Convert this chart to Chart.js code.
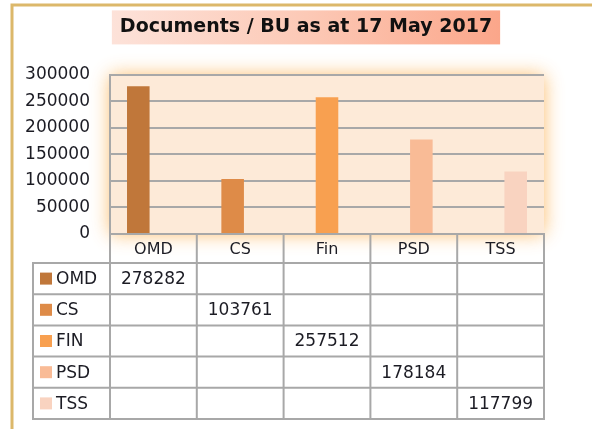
<!DOCTYPE html>
<html>
<head>
<meta charset="utf-8">
<script src="https://cdn.jsdelivr.net/npm/chart.js@4/dist/chart.umd.min.js"></script>
<style>
  html, body { margin: 0; padding: 0; background: #ffffff; }
  #wrap { width: 592px; height: 429px; position: relative; }
</style>
</head>
<body>
<div id="wrap"><canvas id="c" width="592" height="429"></canvas></div>
<script>
// ---- data ----
const chartTitle = 'Documents / BU as at 17 May 2017';
const categories = ['OMD', 'CS', 'Fin', 'PSD', 'TSS'];
const seriesNames = ['OMD', 'CS', 'FIN', 'PSD', 'TSS'];
const documentCounts = [278282, 103761, 257512, 178184, 117799];
const yTickValues = [0, 50000, 100000, 150000, 200000, 250000, 300000];

// ---- styles ----
const seriesColors = ['#c0773a', '#de8b48', '#f8a050', '#f9bb96', '#f9d3c0'];
const FONT = '"DejaVu Sans", Verdana, sans-serif';
const TEXT = '#1c1c24';
const LINE = '#a8a8a8';
const HEADER_H = 29;

const datasets = seriesNames.map((name, i) => ({
  label: name,
  data: categories.map((_, j) => (j === i ? documentCounts[i] : null)),
  backgroundColor: seriesColors[i],
  borderWidth: 0,
  grouped: false,
  barPercentage: 0.26,
  categoryPercentage: 1.0
}));

const framePlugin = {
  id: 'frame',
  afterLayout(chart) {
    // centre the title over the whole framed area
    const tb = chart.titleBlock;
    tb.right = 600;
    tb.width = tb.right - tb.left;
  },
  beforeDraw(chart) {
    const ctx = chart.ctx;
    const a = chart.chartArea;
    ctx.save();
    ctx.fillStyle = '#ffffff';
    ctx.fillRect(0, 0, chart.width, chart.height);
    // gold outer frame (top & left)
    ctx.strokeStyle = '#dcb86a';
    ctx.lineWidth = 3;
    ctx.beginPath();
    ctx.moveTo(12, chart.height);
    ctx.lineTo(12, 5);
    ctx.lineTo(chart.width, 5);
    ctx.stroke();
    // title gradient box
    const tb = chart.titleBlock;
    const topts = chart.options.plugins.title;
    ctx.font = 'bold ' + topts.font.size + 'px ' + FONT;
    const tw = ctx.measureText(chartTitle).width;
    const cx = (tb.left + tb.right) / 2;
    const cy = tb.top + topts.padding.top + topts.font.size * 1.2 / 2;
    const bx = cx - tw / 2 - 8, bw = tw + 16, by = cy - 17, bh = 34;
    const g = ctx.createLinearGradient(bx, 0, bx + bw, 0);
    g.addColorStop(0, '#fde2d9');
    g.addColorStop(0.5, '#fcc9b6');
    g.addColorStop(1, '#fba68a');
    ctx.fillStyle = g;
    ctx.fillRect(bx, by, bw, bh);
    // plot area with glow
    ctx.shadowColor = 'rgba(251,176,80,0.85)';
    ctx.shadowBlur = 18;
    ctx.fillStyle = '#fdead8';
    ctx.fillRect(a.left, a.top, a.right - a.left, a.bottom - a.top);
    ctx.restore();
  }
};

const offsetPlugin = {
  id: 'barOffset',
  afterDatasetsUpdate(chart) {
    const xs = chart.scales.x;
    const cw = xs.width / categories.length;
    const n = chart.data.datasets.length;
    chart.data.datasets.forEach((ds, i) => {
      const meta = chart.getDatasetMeta(i);
      meta.data.forEach(el => { el.x += (i - (n - 1) / 2) * cw * 0.087; });
    });
  }
};

const tablePlugin = {
  id: 'dataTable',
  afterDraw(chart) {
    const ctx = chart.ctx;
    const a = chart.chartArea;
    const xs = chart.scales.x;
    const cw = (a.right - a.left) / categories.length;
    const top = a.bottom;
    const headBottom = top + HEADER_H;
    const bottom = xs.bottom;
    const rowH = (bottom - headBottom) / seriesNames.length;
    const tableLeft = 33;
    ctx.save();
    ctx.strokeStyle = LINE;
    ctx.lineWidth = 2;
    ctx.beginPath();
    for (let i = 0; i <= categories.length; i++) {
      const x = a.left + i * cw;
      ctx.moveTo(x, top); ctx.lineTo(x, bottom);
    }
    ctx.moveTo(tableLeft, headBottom); ctx.lineTo(tableLeft, bottom);
    for (let r = 0; r <= seriesNames.length; r++) {
      const y = headBottom + r * rowH;
      ctx.moveTo(tableLeft - 1, y); ctx.lineTo(a.right + 1, y);
    }
    ctx.stroke();
    // rows
    ctx.font = '17px ' + FONT;
    ctx.textBaseline = 'middle';
    seriesNames.forEach((name, r) => {
      const cy = headBottom + r * rowH + rowH / 2;
      ctx.fillStyle = seriesColors[r];
      ctx.fillRect(40, cy - 6, 12, 12);
      ctx.fillStyle = TEXT;
      ctx.textAlign = 'left';
      ctx.fillText(name, 56, cy + 1);
      const ds = chart.data.datasets[r];
      ds.data.forEach((v, c) => {
        if (v === null) return;
        ctx.textAlign = 'center';
        ctx.fillText(String(v), xs.getPixelForTick(c), cy + 1);
      });
    });
    ctx.restore();
  }
};

new Chart(document.getElementById('c'), {
  type: 'bar',
  data: { labels: categories, datasets },
  plugins: [framePlugin, offsetPlugin, tablePlugin],
  options: {
    responsive: false,
    animation: false,
    events: [],
    layout: { padding: { left: 12, right: 48, top: 0, bottom: 10 } },
    plugins: {
      legend: { display: false },
      tooltip: { enabled: false },
      title: {
        display: true,
        text: chartTitle,
        color: '#111111',
        font: { family: FONT, size: 19, weight: 'bold' },
        padding: { top: 16, bottom: 36 }
      }
    },
    scales: {
      x: {
        grid: { display: false, drawTicks: false, tickLength: 0 },
        border: { display: true, color: LINE, width: 2 },
        ticks: { color: TEXT, font: { family: FONT, size: 16 }, padding: 6, maxRotation: 0 },
        afterFit(s) { s.height = 185; }
      },
      y: {
        min: 0,
        max: 300000,
        afterBuildTicks(s) { s.ticks = yTickValues.map(v => ({ value: v })); },
        grid: { color: LINE, lineWidth: 2, drawTicks: false },
        border: { display: true, color: LINE, width: 2 },
        ticks: { color: TEXT, font: { family: FONT, size: 17 }, padding: 20, callback: v => String(v) },
        afterFit(s) { s.width = 98; }
      }
    }
  }
});
</script>
</body>
</html>
